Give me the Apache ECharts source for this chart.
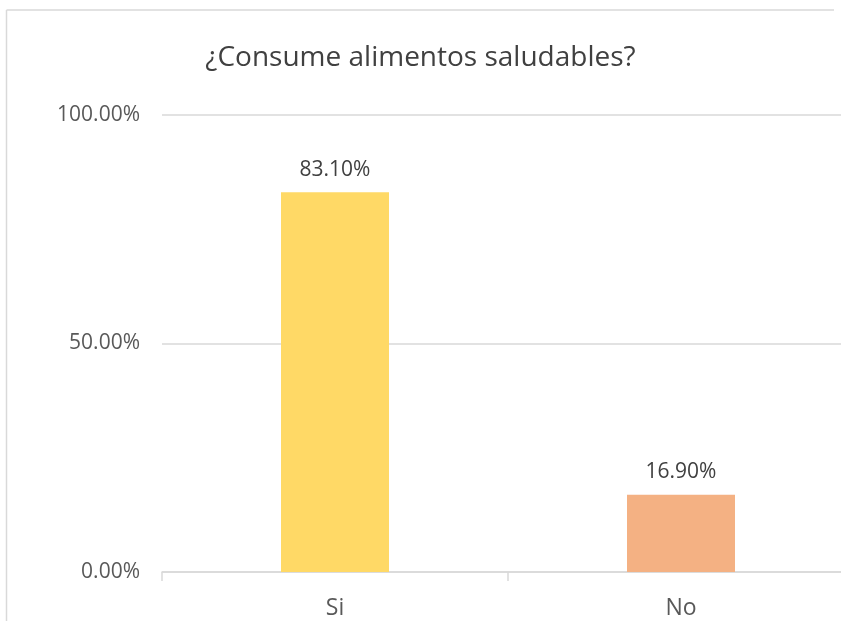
<!DOCTYPE html>
<html>
<head>
<meta charset="utf-8">
<style>
  html, body { margin: 0; padding: 0; background: #ffffff; overflow: hidden; }
  #chart { width: 841px; height: 621px; }
</style>
<script src="https://cdn.jsdelivr.net/npm/echarts@6/dist/echarts.min.js"></script>
</head>
<body>
<div id="chart"></div>
<script>
// Survey answers and their share of respondents (percent)
const categories = ['Si', 'No'];
const shares = [83.10, 16.90];
const barColors = ['#FFD966', '#F4B183'];
const yTicks = [0, 50, 100];

const FONT = '"Open Sans", "Liberation Sans", sans-serif';
const BORDER = '#d9d9d9';

const chart = echarts.init(document.getElementById('chart'), null, { renderer: 'canvas' });

chart.setOption({
  backgroundColor: '#ffffff',
  animation: false,
  title: {
    text: '¿Consume alimentos saludables?',
    left: 'center',
    top: 39,
    textStyle: { fontFamily: FONT, fontSize: 28, fontWeight: 'normal', color: '#404040' }
  },
  // chart-area frame: left edge and top edge
  graphic: [
    { type: 'line', shape: { x1: 6.5, y1: 621, x2: 6.5, y2: 10 },
      style: { stroke: BORDER, lineWidth: 1.5 }, silent: true },
    { type: 'line', shape: { x1: 6.5, y1: 10, x2: 834, y2: 10 },
      style: { stroke: BORDER, lineWidth: 1.5 }, silent: true }
  ],
  grid: { left: 162, top: 115, width: 692, height: 457, containLabel: false, outerBoundsMode: 'none' },
  xAxis: {
    type: 'category',
    data: categories,
    axisLine: { show: true, lineStyle: { color: BORDER, width: 1.5 } },
    axisTick: { show: true, length: 9, lineStyle: { color: BORDER, width: 1.5 } },
    axisLabel: { fontFamily: FONT, fontSize: 23, color: '#595959', margin: 25 }
  },
  yAxis: {
    type: 'value',
    min: yTicks[0],
    max: yTicks[yTicks.length - 1],
    interval: 50,
    axisLine: { show: false },
    axisTick: { show: false },
    splitLine: { lineStyle: { color: BORDER, width: 1.5 } },
    axisLabel: {
      fontFamily: FONT, fontSize: 21, color: '#595959', margin: 22,
      formatter: v => v.toFixed(2) + '%'
    }
  },
  series: [{
    type: 'bar',
    barWidth: 108,
    data: shares.map((v, i) => ({ value: v, itemStyle: { color: barColors[i] } })),
    label: {
      show: true,
      position: 'top',
      distance: 12,
      fontFamily: FONT,
      fontSize: 21,
      color: '#404040',
      formatter: p => p.value.toFixed(2) + '%'
    }
  }]
});
</script>
</body>
</html>
